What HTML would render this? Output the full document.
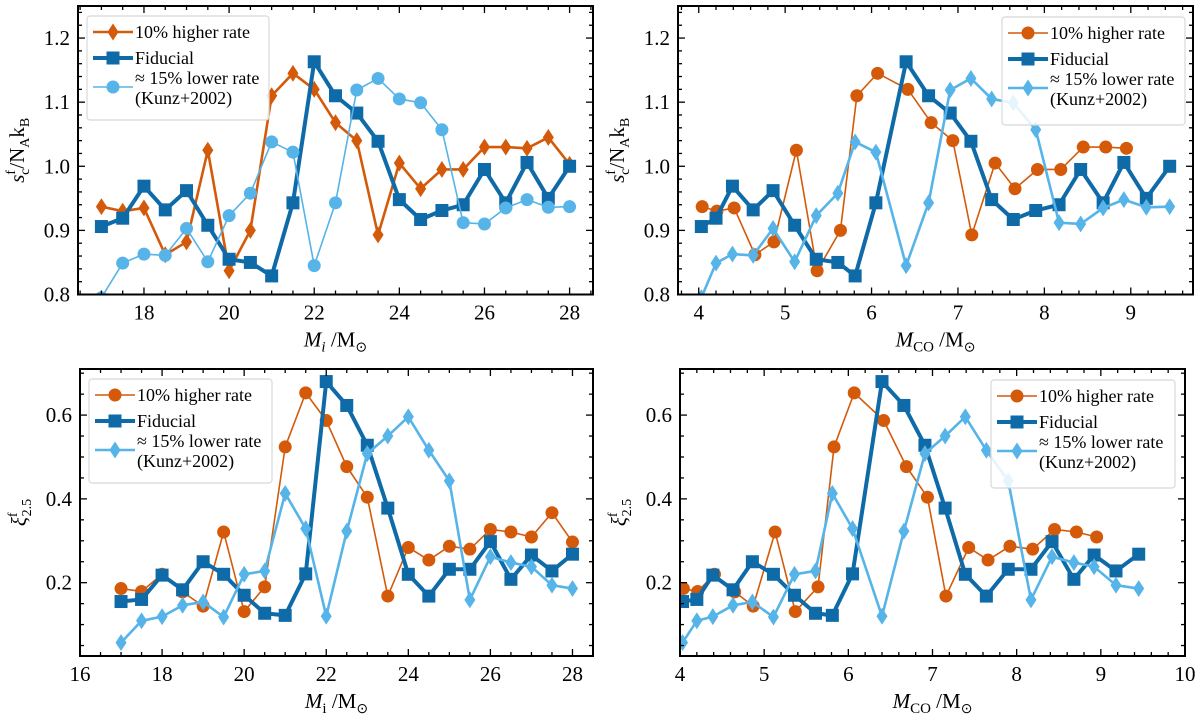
<!DOCTYPE html>
<html><head><meta charset="utf-8"><style>
html,body{margin:0;padding:0;background:#fff;}
svg{display:block;font-family:"Liberation Serif",serif;}
</style></head><body>
<svg id="fig" width="1200" height="722" viewBox="0 0 1200 722" xmlns="http://www.w3.org/2000/svg"></svg>
<script>
// ---- data ----
const massInitial = [17,17.5,18,18.5,19,19.5,20,20.5,21,21.5,22,22.5,23,23.5,24,24.5,25,25.5,26,26.5,27,27.5,28];
const massCO = [4.03,4.2,4.39,4.63,4.86,5.11,5.36,5.61,5.81,6.05,6.4,6.66,6.91,7.15,7.39,7.64,7.9,8.17,8.42,8.68,8.92,9.18,9.45];
const massCOHigher = [4.04,4.21,4.41,4.65,4.87,5.13,5.37,5.64,5.83,6.07,6.42,6.69,6.94,7.16,7.43,7.66,7.92,8.19,8.45,8.71,8.95];
const entropyHigher = [0.937,0.93,0.935,0.862,0.882,1.025,0.837,0.9,1.11,1.145,1.12,1.068,1.04,0.893,1.005,0.965,0.995,0.995,1.03,1.03,1.028,1.045,1.003];
const entropyFiducial = [0.906,0.919,0.969,0.932,0.962,0.908,0.855,0.85,0.829,0.943,1.163,1.11,1.083,1.039,0.948,0.917,0.931,0.94,0.995,0.943,1.006,0.95,1.0];
const entropyLower = [0.795,0.849,0.863,0.861,0.903,0.851,0.923,0.958,1.038,1.022,0.845,0.943,1.119,1.137,1.105,1.099,1.057,0.912,0.91,0.935,0.948,0.936,0.937];
const compactHigher = [0.186,0.179,0.22,0.178,0.144,0.321,0.131,0.19,0.524,0.653,0.587,0.477,0.404,0.168,0.284,0.254,0.287,0.28,0.327,0.321,0.309,0.367,0.297];
const compactFiducial = [0.155,0.16,0.218,0.183,0.25,0.22,0.17,0.127,0.122,0.221,0.68,0.623,0.528,0.378,0.22,0.168,0.232,0.232,0.298,0.208,0.266,0.228,0.268];
const compactLower = [0.057,0.109,0.119,0.146,0.154,0.118,0.22,0.228,0.413,0.329,0.12,0.323,0.508,0.55,0.596,0.516,0.443,0.159,0.262,0.248,0.238,0.194,0.186];
const tickEntropy = ["0.8","0.9","1.0","1.1","1.2"];
const tickCompact = ["0.2","0.4","0.6"];
const tickMiTop = ["18","20","22","24","26","28"];
const tickMiBot = ["16","18","20","22","24","26","28"];
const tickCOTop = ["4","5","6","7","8","9"];
const tickCOBot = ["4","5","6","7","8","9","10"];

const ORANGE="#d45a0a", DARK="#0f6aa8", LIGHT="#56b4e9";
const NS="http://www.w3.org/2000/svg";
const svg=document.getElementById('fig');
function mk(tag,attrs,parent){const e=document.createElementNS(NS,tag);for(const k in attrs)e.setAttribute(k,attrs[k]);(parent||svg).appendChild(e);return e;}

function marker(g,shape,cx,cy,color,size){
  let m;
  if(shape==='sq'){m=mk('rect',{x:cx-size,y:cy-size,width:2*size,height:2*size,fill:color},g);}
  else if(shape==='ci'){m=mk('circle',{cx:cx,cy:cy,r:size,fill:color},g);}
  else {m=mk('polygon',{points:`${cx},${cy-size*1.3} ${cx+size*0.85},${cy} ${cx},${cy+size*1.3} ${cx-size*0.85},${cy}`,fill:color},g);}
  
  
}

function panel(cfg){
  const g=mk('g',{});
  
  
  const L=cfg.box[0],T=cfg.box[1],R=cfg.box[2],B=cfg.box[3];
  const sx=v=>L+(v-cfg.xlim[0])/(cfg.xlim[1]-cfg.xlim[0])*(R-L);
  const sy=v=>B-(v-cfg.ylim[0])/(cfg.ylim[1]-cfg.ylim[0])*(B-T);
  const clip='clip-'+cfg.name;
  const cp=mk('clipPath',{id:clip},g);mk('rect',{x:L,y:T,width:R-L,height:B-T},cp);
  const sg=mk('g',{'clip-path':`url(#${clip})`},g);
  cfg.series.forEach(s=>{
    const ser=mk('g',{},sg);
    
    
    const pts=s.x.map((xv,i)=>sx(xv)+','+sy(s.y[i])).join(' ');
    mk('polyline',{points:pts,fill:'none',stroke:s.color,'stroke-width':s.lw,'stroke-linejoin':'round'},ser);
    s.x.forEach((xv,i)=>marker(ser,s.shape,sx(xv),sy(s.y[i]),s.color,s.ms));
  });
  const tg=mk('g',{stroke:'#000','stroke-width':1.3},g);
  for(let v=cfg.xminor[0];v<=cfg.xlim[1]+1e-9;v+=cfg.xminor[1]){
    if(v<cfg.xlim[0]-1e-9)continue;const x=sx(v);
    const isMaj=Math.abs((v-cfg.xmajor[0])/cfg.xmajor[1]-Math.round((v-cfg.xmajor[0])/cfg.xmajor[1]))<1e-6;
    const len=isMaj?7:4;
    mk('line',{x1:x,y1:B,x2:x,y2:B-len},tg);mk('line',{x1:x,y1:T,x2:x,y2:T+len},tg);
  }
  for(let v=cfg.yminor[0];v<=cfg.ylim[1]+1e-9;v+=cfg.yminor[1]){
    if(v<cfg.ylim[0]-1e-9)continue;const y=sy(v);
    const isMaj=Math.abs((v-cfg.ymajor[0])/cfg.ymajor[1]-Math.round((v-cfg.ymajor[0])/cfg.ymajor[1]))<1e-6;
    const len=isMaj?7:4;
    mk('line',{x1:L,y1:y,x2:L+len,y2:y},tg);mk('line',{x1:R,y1:y,x2:R-len,y2:y},tg);
  }
  mk('rect',{x:L,y:T,width:R-L,height:B-T,fill:'none',stroke:'#000','stroke-width':2},g);
  cfg.xlabels.forEach((t,i)=>{const v=cfg.xmajor[0]+i*cfg.xmajor[1];
    const e=mk('text',{x:sx(v),y:B+25,'text-anchor':'middle','font-size':21},g);e.textContent=t;
    });
  cfg.ylabels.forEach((t,i)=>{const v=cfg.ymajor[0]+i*cfg.ymajor[1];
    const e=mk('text',{x:L-8,y:sy(v)+7,'text-anchor':'end','font-size':21},g);e.textContent=t;
    });
  const xt=mk('text',{x:(L+R)/2,y:B+52,'text-anchor':'middle','font-size':21},g);
  xt.innerHTML=cfg.xtitle;
  const yt=mk('text',{x:0,y:0,'text-anchor':'middle','font-size':21,transform:`translate(${L-54},${(T+B)/2}) rotate(-90)`},g);
  yt.innerHTML=cfg.ytitle;
  const lg=mk('g',{},g);
  const [lx,ly,lw,lh]=cfg.legend;
  mk('rect',{x:lx,y:ly,width:lw,height:lh,rx:3,fill:'#fff','fill-opacity':0.85,stroke:'#d8d8d8','stroke-width':1.2},lg);
  const rows=[16,42,68];
  cfg.series.forEach((s,i)=>{
    const ent=mk('g',{},lg);
    const cy=ly+rows[i]+(i==2?3:0);
    mk('line',{x1:lx+6,y1:cy,x2:lx+46,y2:cy,stroke:s.color,'stroke-width':s.lw},ent);
    marker(ent,s.shape,lx+26,cy,s.color,s.ms);
    const t=mk('text',{x:lx+48,y:cy+6,'font-size':18},ent);
    if(i==2){t.setAttribute('y',cy-3);t.innerHTML='≈ 15% lower rate';
      const t2=mk('text',{x:lx+48,y:cy+17,'font-size':18},ent);t2.textContent='(Kunz+2002)';}
    else t.textContent=s.label;
  });
}

const Mi='<tspan font-style="italic">M</tspan><tspan font-style="italic" font-size="15" dy="5">i</tspan><tspan dy="-5"> /M</tspan><tspan font-size="14" dy="5">⊙</tspan>';
const MiR='<tspan font-style="italic">M</tspan><tspan font-size="15" dy="5">i</tspan><tspan dy="-5"> /M</tspan><tspan font-size="14" dy="5">⊙</tspan>';
const MCO='<tspan font-style="italic">M</tspan><tspan font-size="15" dy="5">CO</tspan><tspan dy="-5"> /M</tspan><tspan font-size="14" dy="5">⊙</tspan>';
const SY='<tspan font-style="italic">s</tspan><tspan font-size="14" dy="-9">f</tspan><tspan font-size="14" dx="-5" dy="14">c</tspan><tspan dy="-5">/N</tspan><tspan font-size="14" dy="5">A</tspan><tspan dy="-5">k</tspan><tspan font-size="14" dy="5">B</tspan>';
const XY='<tspan font-style="italic">ξ</tspan><tspan font-size="14" dy="-9">f</tspan><tspan font-size="14" dx="-4" dy="14">2.5</tspan>';

panel({name:'panel-entropy-mi',box:[78,6,593,294.5],xlim:[16.45,28.55],ylim:[0.8,1.25],
  xmajor:[18,2],xminor:[16.5,0.5],ymajor:[0.8,0.1],yminor:[0.8,0.02],xlabels:tickMiTop,ylabels:tickEntropy,
  xtitle:Mi,ytitle:SY,legend:[87,16,182,104],
  series:[{name:'series-higher-rate',label:'10% higher rate',x:massInitial,y:entropyHigher,color:ORANGE,lw:2.6,shape:'di',ms:6.5},
          {name:'series-fiducial',label:'Fiducial',x:massInitial,y:entropyFiducial,color:DARK,lw:4,shape:'sq',ms:6.5},
          {name:'series-lower-rate',label:'',x:massInitial,y:entropyLower,color:LIGHT,lw:1.6,shape:'ci',ms:6.5}]});
panel({name:'panel-entropy-mco',box:[678,6,1193,294.5],xlim:[3.76,9.72],ylim:[0.8,1.25],
  xmajor:[4,1],xminor:[3.8,0.2],ymajor:[0.8,0.1],yminor:[0.8,0.02],xlabels:tickCOTop,ylabels:tickEntropy,
  xtitle:MCO,ytitle:SY,legend:[1002,17,183,108],
  series:[{name:'series-higher-rate',label:'10% higher rate',x:massCOHigher,y:entropyHigher.slice(0,21),color:ORANGE,lw:1.6,shape:'ci',ms:6.5},
          {name:'series-fiducial',label:'Fiducial',x:massCO,y:entropyFiducial,color:DARK,lw:4,shape:'sq',ms:6.5},
          {name:'series-lower-rate',label:'',x:massCO,y:entropyLower,color:LIGHT,lw:2.6,shape:'di',ms:6.5}]});
panel({name:'panel-compactness-mi',box:[80,369,593,656],xlim:[16,28.5],ylim:[0.025,0.71],
  xmajor:[16,2],xminor:[16,0.5],ymajor:[0.2,0.2],yminor:[0.05,0.05],xlabels:tickMiBot,ylabels:tickCompact,
  xtitle:MiR,ytitle:XY,legend:[89,379,183,104],
  series:[{name:'series-higher-rate',label:'10% higher rate',x:massInitial,y:compactHigher,color:ORANGE,lw:1.6,shape:'ci',ms:6.5},
          {name:'series-fiducial',label:'Fiducial',x:massInitial,y:compactFiducial,color:DARK,lw:4,shape:'sq',ms:6.5},
          {name:'series-lower-rate',label:'',x:massInitial,y:compactLower,color:LIGHT,lw:2.6,shape:'di',ms:6.5}]});
panel({name:'panel-compactness-mco',box:[680,369,1185,656],xlim:[4,10],ylim:[0.025,0.71],
  xmajor:[4,1],xminor:[4,0.2],ymajor:[0.2,0.2],yminor:[0.05,0.05],xlabels:tickCOBot,ylabels:tickCompact,
  xtitle:MCO,ytitle:XY,legend:[991,380,184,108],
  series:[{name:'series-higher-rate',label:'10% higher rate',x:massCOHigher,y:compactHigher.slice(0,21),color:ORANGE,lw:1.6,shape:'ci',ms:6.5},
          {name:'series-fiducial',label:'Fiducial',x:massCO,y:compactFiducial,color:DARK,lw:4,shape:'sq',ms:6.5},
          {name:'series-lower-rate',label:'',x:massCO,y:compactLower,color:LIGHT,lw:2.6,shape:'di',ms:6.5}]});
</script>
</body></html>
